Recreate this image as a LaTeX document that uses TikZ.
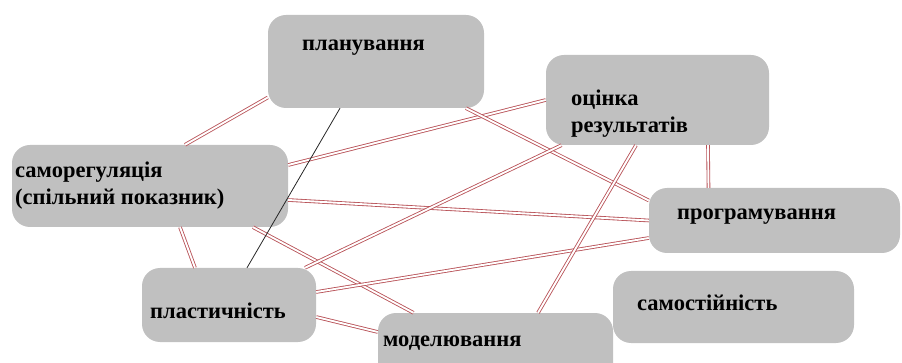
\documentclass[tikz,border=0pt]{standalone}
\usepackage{fontspec}
\setmainfont{Liberation Serif}
\usepackage{tikz}
\usetikzlibrary{positioning,calc}
\definecolor{boxgray}{RGB}{192,192,192}
\definecolor{linkred}{RGB}{184,82,88}

\begin{document}
\begin{tikzpicture}[
    x=1pt, y=-1pt,
    box/.style={rectangle, fill=boxgray, draw=none, rounded corners=18pt, inner sep=0pt},
    lbl/.style={anchor=west, inner sep=0pt, align=left, font=\fontsize{22.5}{27}\selectfont\bfseries},
    link/.style={draw=linkred, line width=0.85pt, double=white, double distance=1.9pt},
    tie/.style={draw=black!85, line width=0.8pt}
]
\clip (0,0) rectangle (902,363);
\useasboundingbox (0,0) rectangle (902,363);

\node[box, minimum width=216pt, minimum height=93pt] (plan) at (376,61.5) {};
\node[box, minimum width=223pt, minimum height=90pt] (ocin) at (657.5,100) {};
\node[box, minimum width=276pt, minimum height=82pt] (samo) at (150,186) {};
\node[box, minimum width=251pt, minimum height=65pt] (prog) at (774.5,220.5) {};
\node[box, minimum width=174pt, minimum height=74pt] (plas) at (229,305) {};
\node[box, minimum width=235pt, minimum height=82pt] (mode) at (495.5,354) {};
\node[box, minimum width=241pt, minimum height=72pt] (samost) at (733.5,307) {};

\node[lbl] (planT) at (302,48) {планування};
\node[lbl] (ocinT) at (571,113.5) {оцінка\\результатів};
\node[lbl] (samoT) at (15,186) {саморегуляція\\(спільний показник)};
\node[lbl] (progT) at (677,217) {програмування};
\node[lbl] (plasT) at (150,311) {пластичність};
\node[lbl] (modeT) at (383,343) {моделювання};
\node[lbl] (samostT) at (637,303) {самостійність};

\draw[link] ([xshift=35pt]samo.north) -- ([yshift=-36pt]plan.west);
\draw[link] ([yshift=21pt]samo.east) -- (ocin.west);
\draw[link] ([yshift=-14pt]samo.east) -- (prog.west);
\draw[link] ([xshift=30pt]samo.south) -- ([xshift=-34pt]plas.north);
\draw[link] ([xshift=103pt]samo.south) -- ([xshift=-82pt]mode.north);
\draw[link] ([xshift=90pt]plan.south) -- ([yshift=20pt]prog.west);
\draw[link] ([xshift=76pt]plas.north) -- ([xshift=-96pt]ocin.south);
\draw[link] ([yshift=13pt]plas.east) -- ([yshift=-17.5pt]prog.west);
\draw[link] ([yshift=-12pt]plas.east) -- ([yshift=22pt]mode.west);
\draw[link] ([xshift=42.5pt]mode.north) -- ([xshift=-21.5pt]ocin.south);
\draw[link] ([xshift=50.5pt]ocin.south) -- ([xshift=-66pt]prog.north);
\draw[tie] ([xshift=18pt]plas.north) -- ([xshift=-36pt]plan.south);
\end{tikzpicture}
\end{document}
